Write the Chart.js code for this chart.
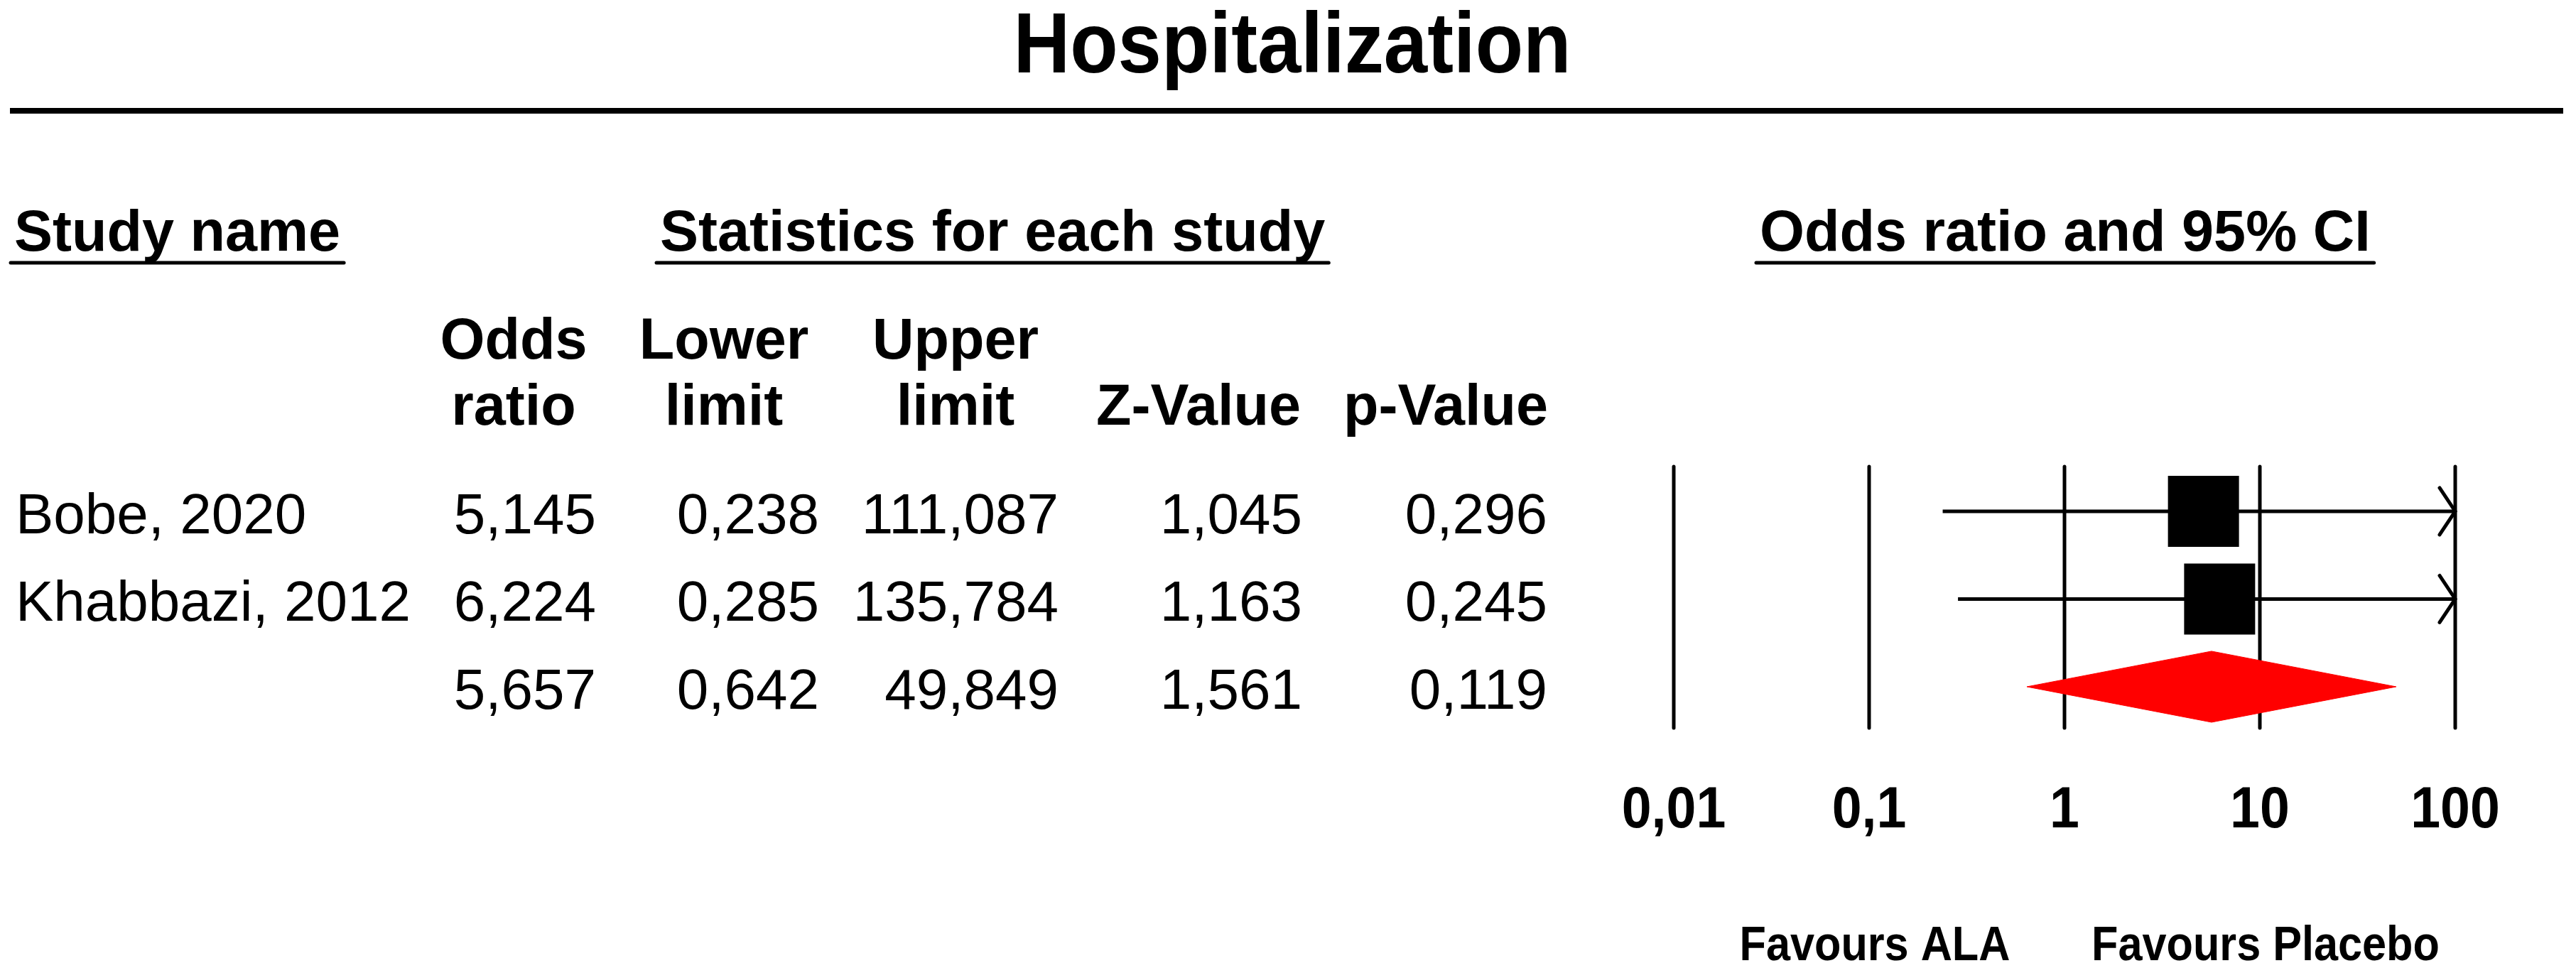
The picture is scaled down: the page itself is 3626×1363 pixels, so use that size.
<!DOCTYPE html>
<html>
<head>
<meta charset="utf-8">
<title>Hospitalization</title>
<script src="https://cdn.jsdelivr.net/npm/chart.js@4.4.1/dist/chart.umd.min.js"></script>
<style>
  html, body { margin: 0; padding: 0; background: #fff; overflow: hidden; }
  canvas { display: block; }
</style>
</head>
<body>
<canvas id="forest" width="3626" height="1363"></canvas>
<script>
// data
const studyNames = ['Bobe, 2020', 'Khabbazi, 2012', ''];
const oddsRatio = [5.145, 6.224, 5.657];
const lowerLimit = [0.238, 0.285, 0.642];
const upperLimit = [111.087, 135.784, 49.849];
const zValue = [1.045, 1.163, 1.561];
const pValue = [0.296, 0.245, 0.119];
const isSummary = [false, false, true];

const xTicks = [0.01, 0.1, 1, 10, 100];
const xTickLabels = ['0,01', '0,1', '1', '10', '100'];
const favourLabels = ['Favours ALA', 'Favours Placebo'];
const favourAt = [0.1, 10];

const colHeaders = [['Odds', 'ratio'], ['Lower', 'limit'], ['Upper', 'limit'], ['', 'Z-Value'], ['', 'p-Value']];
const colValues = [oddsRatio, lowerLimit, upperLimit, zValue, pValue];

const FONT = '"Liberation Sans", Arial, Helvetica, sans-serif';
const fmt = v => v.toFixed(3).replace('.', ',');

function drawText(ctx, s, x, y, font, align, sx) {
    ctx.save();
    ctx.font = font;
    ctx.textAlign = align || 'left';
    ctx.textBaseline = 'alphabetic';
    ctx.fillStyle = '#000';
    ctx.translate(x, y);
    ctx.scale(sx || 1, 1);
    ctx.fillText(s, 0, 0);
    ctx.restore();
}

function underlined(ctx, s, x, y, font) {
    ctx.save();
    ctx.font = font;
    const w = ctx.measureText(s).width;
    ctx.restore();
    drawText(ctx, s, x, y, font, 'left');
    ctx.save();
    ctx.strokeStyle = '#000';
    ctx.lineWidth = 5;
    ctx.lineCap = 'round';
    ctx.beginPath();
    ctx.moveTo(x - 5, y + 17);
    ctx.lineTo(x + w + 5, y + 17);
    ctx.stroke();
    ctx.restore();
}

const forestPlugin = {
    id: 'forest',
    beforeDatasetsDraw(chart) {
        const ctx = chart.ctx;
        const xs = chart.scales.x, area = chart.chartArea;
        ctx.save();
        ctx.strokeStyle = '#000';
        ctx.lineWidth = 5;
        ctx.lineCap = 'round';
        xTicks.forEach(t => {
            const px = xs.getPixelForValue(t);
            ctx.beginPath();
            ctx.moveTo(px, area.top);
            ctx.lineTo(px, area.bottom);
            ctx.stroke();
        });
        ctx.restore();
    },
    afterDatasetsDraw(chart) {
        const ctx = chart.ctx;
        const xs = chart.scales.x, ys = chart.scales.y;
        // arrow heads where the interval runs off the axis
        ctx.save();
        ctx.strokeStyle = '#000';
        ctx.lineWidth = 5;
        ctx.lineCap = 'round';
        studyNames.forEach((n, i) => {
            if (isSummary[i]) return;
            const py = ys.getPixelForValue(i);
            if (upperLimit[i] > xs.max) {
                const px = xs.getPixelForValue(xs.max);
                ctx.beginPath();
                ctx.moveTo(px - 22, py - 33);
                ctx.lineTo(px, py);
                ctx.lineTo(px - 22, py + 33);
                ctx.stroke();
            }
            if (lowerLimit[i] < xs.min) {
                const px = xs.getPixelForValue(xs.min);
                ctx.beginPath();
                ctx.moveTo(px + 22, py - 33);
                ctx.lineTo(px, py);
                ctx.lineTo(px + 22, py + 33);
                ctx.stroke();
            }
        });
        ctx.restore();
    },
    afterDraw(chart) {
        const ctx = chart.ctx;
        const xs = chart.scales.x, ys = chart.scales.y;
        const W = chart.width;

        // title and rule
        drawText(ctx, 'Hospitalization', 1819, 102, 'bold 120px ' + FONT, 'center', 0.92);
        ctx.save();
        ctx.fillStyle = '#000';
        ctx.fillRect(14, 152, W - 32, 8);
        ctx.restore();

        // section headers
        const hFont = 'bold 81px ' + FONT;
        underlined(ctx, 'Study name', 20, 353, hFont);
        underlined(ctx, 'Statistics for each study', 929, 353, hFont);
        underlined(ctx, 'Odds ratio and 95% CI', 2477, 353, hFont);

        // column headers
        const colCenter = [723, 1019, 1345, 1687, 2035];
        const colRight = [839, 1153, 1490, 1833, 2178];
        colHeaders.forEach((h, c) => {
            if (h[0]) drawText(ctx, h[0], colCenter[c], 505, hFont, 'center');
            drawText(ctx, h[1], colCenter[c], 598, hFont, 'center');
        });

        // rows
        const rFont = '80px ' + FONT;
        studyNames.forEach((n, i) => {
            const base = ys.getPixelForValue(i) + 31;
            if (n) drawText(ctx, n, 22, base, rFont, 'left');
            colValues.forEach((vals, c) => {
                drawText(ctx, fmt(vals[i]), colRight[c], base, rFont, 'right');
            });
        });

        // axis labels
        xTicks.forEach((t, k) => {
            drawText(ctx, xTickLabels[k], xs.getPixelForValue(t), 1165, 'bold 81px ' + FONT, 'center', 0.93);
        });
        favourLabels.forEach((s, k) => {
            drawText(ctx, s, xs.getPixelForValue(favourAt[k]) + 8, 1352, 'bold 68px ' + FONT, 'center', 0.9);
        });
    }
};

// datasets
const datasets = [];
studyNames.forEach((n, i) => {
    if (isSummary[i]) return;
    datasets.push({
        label: n + ' CI',
        showLine: true,
        data: [{ x: lowerLimit[i], y: i }, { x: upperLimit[i], y: i }],
        borderColor: '#000',
        borderWidth: 5,
        pointRadius: 0,
        clip: 0
    });
});
datasets.push({
    label: 'Odds ratio',
    data: studyNames.map((n, i) => ({ x: oddsRatio[i], y: i })).filter((d, i) => !isSummary[i]),
    pointStyle: 'rect',
    pointRadius: 70.7,
    backgroundColor: '#000',
    borderColor: '#000',
    borderWidth: 0
});
studyNames.forEach((n, i) => {
    if (!isSummary[i]) return;
    const h = 0.405;
    datasets.push({
        label: 'Summary',
        showLine: true,
        fill: 'shape',
        tension: 0,
        data: [
            { x: lowerLimit[i], y: i },
            { x: oddsRatio[i], y: i - h },
            { x: upperLimit[i], y: i },
            { x: oddsRatio[i], y: i + h },
            { x: lowerLimit[i], y: i }
        ],
        borderColor: '#ff0000',
        backgroundColor: '#ff0000',
        borderWidth: 1,
        pointRadius: 0
    });
});

const ctx = document.getElementById('forest').getContext('2d');
const chart = new Chart(ctx, {
    type: 'scatter',
    data: { datasets: datasets },
    options: {
        responsive: false,
        animation: false,
        devicePixelRatio: 1,
        events: [],
        layout: { padding: { left: 2356, right: 170, top: 657, bottom: 338 } },
        plugins: {
            legend: { display: false },
            tooltip: { enabled: false }
        },
        scales: {
            x: { type: 'logarithmic', min: 0.01, max: 100, display: false },
            y: { type: 'linear', min: -0.51, max: 2.47, reverse: true, display: false }
        }
    },
    plugins: [forestPlugin]
});
</script>
</body>
</html>
